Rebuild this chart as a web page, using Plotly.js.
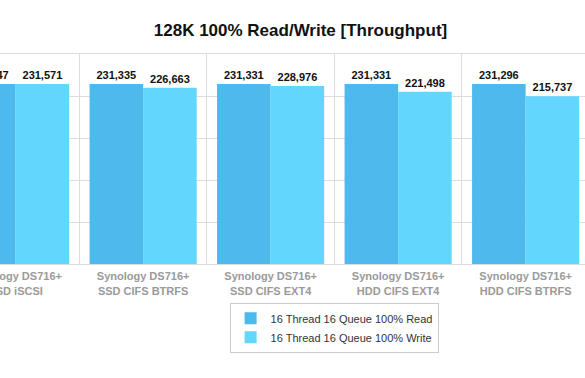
<!DOCTYPE html>
<html>
<head>
<meta charset="utf-8">
<script src="https://cdn.plot.ly/plotly-3.0.1.min.js"></script>
<style>
html,body{margin:0;padding:0;background:#fff;}
#wrap{width:585px;height:378px;overflow:hidden;position:relative;}
#chart{width:700px;height:378px;position:absolute;left:-60px;top:0;}
</style>
</head>
<body>
<div id="wrap"><div id="chart"></div></div>
<script>
const categories = [
  "Synology DS716+<br>SSD iSCSI",
  "Synology DS716+<br>SSD CIFS BTRFS",
  "Synology DS716+<br>SSD CIFS EXT4",
  "Synology DS716+<br>HDD CIFS EXT4",
  "Synology DS716+<br>HDD CIFS BTRFS"
];
const readValues = [231347, 231335, 231331, 231331, 231296];
const writeValues = [231571, 226663, 228976, 221498, 215737];
const seriesNames = ["16 Thread 16 Queue 100% Read", "16 Thread 16 Queue 100% Write"];

const font = "Liberation Sans, Arial, Helvetica, sans-serif";
const textFont = {family: font, size: 11, color: "#111", weight: "bold"};

const traces = [
  {type: "bar", name: seriesNames[0], x: categories, y: readValues,
   marker: {color: "#4db9ec"}, texttemplate: "%{y:,}", textposition: "outside",
   textfont: textFont, cliponaxis: false, hoverinfo: "none"},
  {type: "bar", name: seriesNames[1], x: categories, y: writeValues,
   marker: {color: "#63d6fe"}, texttemplate: "%{y:,}", textposition: "outside",
   textfont: textFont, cliponaxis: false, hoverinfo: "none"}
];

const layout = {
  width: 700, height: 378,
  margin: {l: 0, r: 0, t: 54, b: 114, pad: 0},
  paper_bgcolor: "#fff", plot_bgcolor: "#fff",
  title: {text: "<b>128K 100% Read/Write [Throughput]</b>", x: 0.515, xanchor: "center", y: 0.92, yanchor: "middle",
          font: {family: font, size: 17, color: "#111"}},
  barmode: "group", bargap: 0.16, bargroupgap: 0,
  xaxis: {type: "category", range: [-0.593, 4.897], tickson: "boundaries", showgrid: true,
          gridcolor: "#dcdcdc", gridwidth: 1, showline: true, mirror: true, linecolor: "#dcdcdc", linewidth: 1,
          ticks: "", ticklabelstandoff: 2,
          tickfont: {family: font, size: 11, color: "#9a9a9a", weight: "bold"}, fixedrange: true},
  yaxis: {range: [0, 270000], dtick: 54000, tick0: 0, showgrid: true, gridcolor: "#dcdcdc", gridwidth: 1,
          showticklabels: false, zeroline: false, ticks: "", fixedrange: true},
  showlegend: true,
  legend: {x: 0.563, xanchor: "center", y: -0.185, yanchor: "top", orientation: "v",
           bordercolor: "#cccccc", borderwidth: 1, bgcolor: "#fff",
           font: {family: font, size: 11, color: "#333"}, tracegroupgap: 0}
};

Plotly.newPlot("chart", traces, layout, {displayModeBar: false, staticPlot: true});
</script>
</body>
</html>
